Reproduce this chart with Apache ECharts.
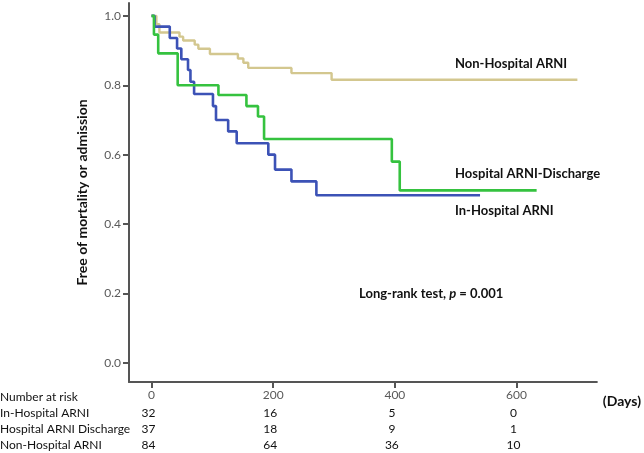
<!DOCTYPE html>
<html>
<head>
<meta charset="utf-8">
<script src="https://cdn.jsdelivr.net/npm/echarts@6/dist/echarts.min.js"></script>
<style>
html,body{margin:0;padding:0;background:#fff;}
#chart{width:644px;height:453px;}
</style>
</head>
<body>
<div id="chart"></div>
<script>
// ---- data ----
const xTicks = [0, 200, 400, 600];
const yTicks = [0, 0.2, 0.4, 0.6, 0.8, 1.0];

const nonHospDays = [0, 8, 13, 46, 52, 71, 77, 96, 142, 151, 159, 230, 296, 700];
const nonHospSurv = [1.0, 0.976, 0.952, 0.940, 0.929, 0.917, 0.905, 0.890, 0.877, 0.865, 0.850, 0.835, 0.816, 0.816];

const dischargeDays = [0, 4, 11, 43, 110, 156, 175, 185, 395, 408, 633];
const dischargeSurv = [1.0, 0.946, 0.892, 0.800, 0.772, 0.740, 0.710, 0.645, 0.580, 0.497, 0.497];

const inHospDays = [0, 5, 30, 42, 49, 60, 64, 70, 101, 106, 126, 140, 192, 203, 230, 271, 540];
const inHospSurv = [1.0, 0.969, 0.936, 0.906, 0.875, 0.844, 0.810, 0.775, 0.740, 0.700, 0.667, 0.633, 0.600, 0.557, 0.523, 0.483, 0.483];

const riskLabels = ['Number at risk', 'In-Hospital ARNI', 'Hospital ARNI Discharge', 'Non-Hospital ARNI'];
const riskInHosp = [32, 16, 5, 0];
const riskDischarge = [37, 18, 9, 1];
const riskNonHosp = [84, 64, 36, 10];

const curveLabels = ['Non-Hospital ARNI', 'Hospital ARNI-Discharge', 'In-Hospital ARNI'];

// ---- build ----
function pairs(xs, ys) { return xs.map((x, i) => [x, ys[i]]); }

const FONT = 'Lato';
const X_MIN = -37, X_MAX = 732;

function riskAxis(values, margin) {
  return {
    type: 'value', min: X_MIN, max: X_MAX, position: 'bottom',
    axisLine: { show: false }, axisTick: { show: false }, splitLine: { show: false },
    axisLabel: {
      customValues: xTicks, margin: margin, color: '#111', fontFamily: FONT, fontSize: 12,
      padding: [0, 6, 0, 0],
      formatter: function (v) {
        const i = xTicks.indexOf(v);
        if (i < 0) return '';
        return i === 0 ? '{a|' + values[i] + '}' : '' + values[i];
      },
      rich: { a: { fontFamily: FONT, fontSize: 12, color: '#111', padding: [0, 0, 6, 0] } }
    }
  };
}

const chart = echarts.init(document.getElementById('chart'), null, { renderer: 'canvas' });
const axisColor = '#555';
chart.setOption({
  animation: false,
  backgroundColor: '#fff',
  grid: { left: 129, right: 47, top: 3, bottom: 71, containLabel: false },
  xAxis: [
    {
      type: 'value', min: X_MIN, max: X_MAX, position: 'bottom',
      name: '(Days)', nameLocation: 'end', nameGap: 6,
      nameTextStyle: { fontFamily: FONT, fontWeight: 'bold', fontSize: 14, color: '#111', verticalAlign: 'top', padding: [12, 0, 0, 0] },
      axisLine: { show: true, onZero: false, lineStyle: { color: axisColor, width: 2 } },
      axisTick: { show: true, customValues: xTicks, length: 6, lineStyle: { color: axisColor, width: 2 } },
      axisLabel: { customValues: xTicks, margin: 7, color: '#5a5a5a', fontFamily: FONT, fontSize: 12 },
      splitLine: { show: false }
    },
    riskAxis(riskInHosp, 25),
    riskAxis(riskDischarge, 41),
    riskAxis(riskNonHosp, 57)
  ],
  yAxis: {
    type: 'value', min: -0.055, max: 1.037,
    name: 'Free of mortality or admission', nameLocation: 'middle', nameGap: 40,
    nameTextStyle: { fontFamily: FONT, fontWeight: 'bold', fontSize: 14, color: '#111' },
    axisLine: { show: true, onZero: false, lineStyle: { color: axisColor, width: 2 } },
    axisTick: { show: true, customValues: yTicks, length: 6, lineStyle: { color: axisColor, width: 2 } },
    axisLabel: { customValues: yTicks, margin: 8, color: '#5a5a5a', fontFamily: FONT, fontSize: 12,
      formatter: v => v.toFixed(1) },
    splitLine: { show: false }
  },
  series: [
    { name: curveLabels[0], type: 'line', step: 'end', showSymbol: false, z: 2,
      data: pairs(nonHospDays, nonHospSurv), lineStyle: { color: '#d3c78f', width: 2.4 } },
    { name: curveLabels[2], type: 'line', step: 'end', showSymbol: false, z: 3,
      data: pairs(inHospDays, inHospSurv), lineStyle: { color: '#3c52b6', width: 2.6 } },
    { name: curveLabels[1], type: 'line', step: 'end', showSymbol: false, z: 4,
      data: pairs(dischargeDays, dischargeSurv), lineStyle: { color: '#35c23f', width: 2.6 } }
  ],
  graphic: [
    { type: 'text', left: 455, top: 57, style: { text: curveLabels[0], font: 'bold 13px Lato', fill: '#111' } },
    { type: 'text', left: 455, top: 167, style: { text: curveLabels[1], font: 'bold 13px Lato', fill: '#111' } },
    { type: 'text', left: 455, top: 204, style: { text: curveLabels[2], font: 'bold 13px Lato', fill: '#111' } },
    { type: 'text', left: 359, top: 287, style: {
        text: '{b|Long-rank test, }{i|p}{b| = 0.001}',
        rich: {
          b: { fontFamily: FONT, fontWeight: 'bold', fontSize: 13, fill: '#111', color: '#111' },
          i: { fontFamily: FONT, fontWeight: 'bold', fontStyle: 'italic', fontSize: 13, fill: '#111', color: '#111' }
        } } },
    { type: 'text', left: 0, top: 391, style: { text: riskLabels[0], font: '12px Lato', fill: '#111' } },
    { type: 'text', left: 0, top: 407, style: { text: riskLabels[1], font: '12px Lato', fill: '#111' } },
    { type: 'text', left: 0, top: 423, style: { text: riskLabels[2], font: '12px Lato', fill: '#111' } },
    { type: 'text', left: 0, top: 439, style: { text: riskLabels[3], font: '12px Lato', fill: '#111' } }
  ]
});
</script>
</body>
</html>
